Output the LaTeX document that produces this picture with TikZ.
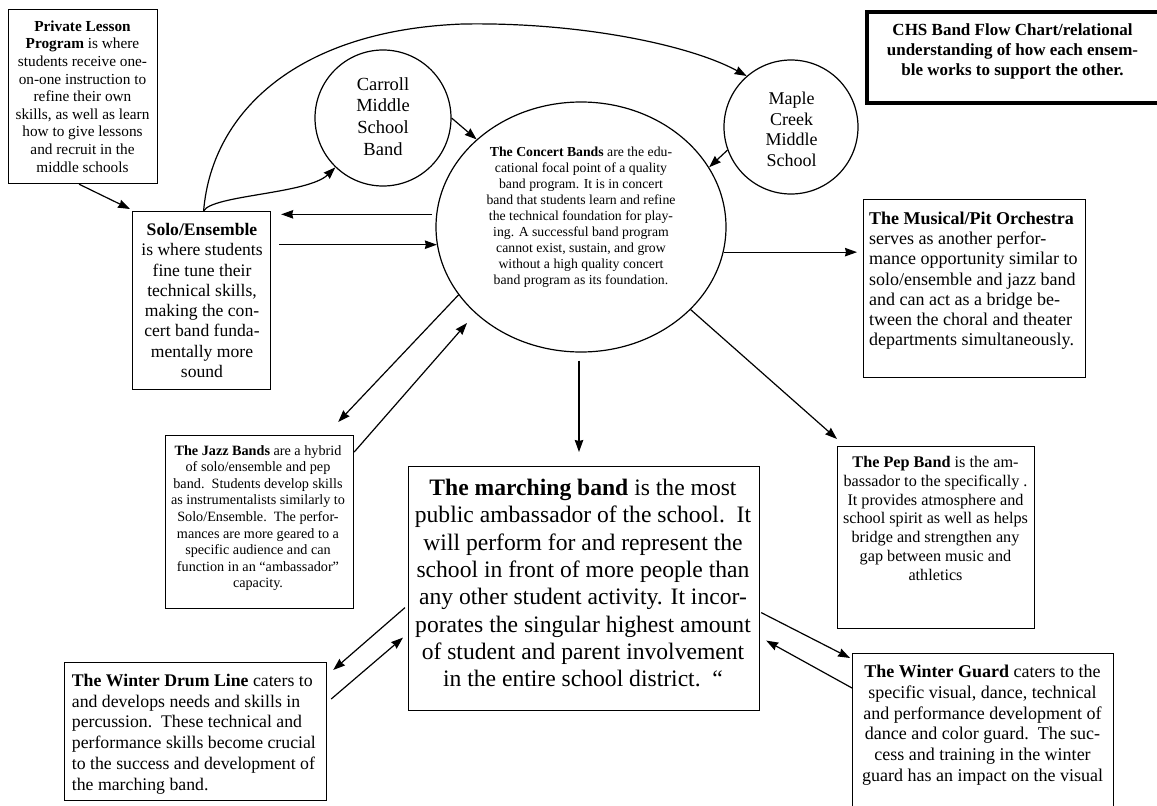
\documentclass[tikz,border=0pt]{standalone}
\usepackage{fontspec}
\setmainfont{Liberation Serif}
\usetikzlibrary{shapes.geometric,arrows.meta,calc}
\newcommand\setfs[2]{\fontsize{#1}{#2}\selectfont}
\begin{document}
\begin{tikzpicture}[x=1pt,y=1pt,
  box/.style={draw, line width=1.2pt, rectangle, anchor=north west, inner sep=0},
  circ/.style={draw, line width=1.2pt, circle, inner sep=0},
  txt/.style={inner sep=0, align=center, anchor=north},
  arr/.style={line width=1.2pt, -{Stealth[length=12pt,width=8.5pt,inset=1pt]}}]
\useasboundingbox (0,0) rectangle (1157,-806);
\clip (0,0) rectangle (1157,-806);
\fill[white] (0,0) rectangle (1157,-806);

% shapes
\node[box, minimum width=149, minimum height=174] (private) at (8,-9) {};
\node[txt, font=\setfs{15.3}{17.6}] (privatetext) at (82.5,-20.5) {\textbf{Private Lesson}\\\textbf{Program} is where\\students receive one-\\on-one instruction to\\refine their own\\skills, as well as learn\\how to give lessons\\and recruit in the\\middle schools};

\node[circ, minimum size=136] (carroll) at (383,-118) {};
\node[txt, font=\setfs{18.5}{21.7}] (carrolltext) at (383,-77) {Carroll\\Middle\\School\\Band};

\node[circ, minimum size=134] (maple) at (791,-127) {};
\node[txt, font=\setfs{18}{20.5}] (mapletext) at (791.5,-92) {Maple\\Creek\\Middle\\School};

\node[draw, line width=1.2pt, ellipse, minimum width=290, minimum height=250, inner sep=0] (concert) at (581,-227) {};
\node[txt, font=\setfs{13.75}{16}] (concerttext) at (581,-146.5) {\textbf{The Concert Bands} are the edu-\\cational focal point of a quality\\band program. It is in concert\\band that students learn and refine\\the technical foundation for play-\\ing. A successful band program\\cannot exist, sustain, and grow\\without a high quality concert\\band program as its foundation.};

\node[box, line width=3.5pt, minimum width=305, minimum height=91] (title) at (865,-10) {};
\node[txt, font=\bfseries\setfs{17}{20}] (titletext) at (1012.5,-24) {CHS Band Flow Chart/relational\\understanding of how each ensem-\\ble works to support the other.};

\node[box, minimum width=222, minimum height=178] (musical) at (863,-199) {};
\node[txt, align=left, anchor=north west, font=\setfs{18}{20.3}] (musicaltext) at (869,-211.5) {\textbf{The Musical/Pit Orchestra}\\serves as another perfor-\\mance opportunity similar to\\solo/ensemble and jazz band\\and can act as a bridge be-\\tween the choral and theater\\departments simultaneously.};

\node[box, minimum width=138, minimum height=178] (solo) at (132,-211) {};
\node[txt, font=\setfs{17.6}{20.3}] (solotext) at (202,-223) {\textbf{Solo/Ensemble}\\is where students\\fine tune their\\technical skills,\\making the con-\\cert band funda-\\mentally more\\sound};

\node[box, minimum width=188, minimum height=173] (jazz) at (165,-435) {};
\node[txt, font=\setfs{14.2}{16.6}] (jazztext) at (258,-445) {\textbf{The Jazz Bands} are a hybrid\\of solo/ensemble and pep\\band.\ \ Students develop skills\\as instrumentalists similarly to\\Solo/Ensemble.\ \ The perfor-\\mances are more geared to a\\specific audience and can\\function in an “ambassador”\\capacity.};

\node[box, minimum width=351, minimum height=244] (marching) at (408,-466) {};
\node[txt, font=\setfs{23.6}{27.3}] (marchingtext) at (583,-479) {\textbf{The marching band} is the most\\public ambassador of the school.\ \ It\\will perform for and represent the\\school in front of more people than\\any other student activity. It incor-\\porates the singular highest amount\\of student and parent involvement\\in the entire school district.\ \ “};

\node[box, minimum width=197, minimum height=182] (pep) at (837,-446) {};
\node[txt, font=\setfs{16.2}{18.8}] (peptext) at (935.5,-456) {\textbf{The Pep Band} is the am-\\bassador to the specifically .\\It provides atmosphere and\\school spirit as well as helps\\bridge and strengthen any\\gap between music and\\athletics};

\node[box, minimum width=262, minimum height=138] (drum) at (64,-662) {};
\node[txt, align=left, anchor=north west, font=\setfs{17.75}{20.7}] (drumtext) at (71.7,-674) {\textbf{The Winter Drum Line} caters to\\and develops needs and skills in\\percussion.\ \ These technical and\\performance skills become crucial\\to the success and development of\\the marching band.};

\node[box, minimum width=261, minimum height=170] (guard) at (852,-653) {};
\node[txt, font=\setfs{18}{20.7}] (guardtext) at (982.5,-665) {\textbf{The Winter Guard} caters to the\\specific visual, dance, technical\\and performance development of\\dance and color guard.\ \ The suc-\\cess and training in the winter\\guard has an impact on the visual};

% connectors
\draw[arr] ($(private.south)+(-4,0)$) -- ($(solo.north west)+(-2,2)$);
\draw[arr] ($(solo.north)+(2,0)$) .. controls (212,-110) and (300,-30) .. (463,-24) .. controls (580,-22) and (690,-45) .. (maple.131);
\draw[arr] ($(solo.north)+(2,0)$) .. controls (212,-195) and (308,-194) .. (carroll.226);
\draw[arr] (carroll.east) -- (concert.140);
\draw[arr] (maple.200) -- (concert.25);
\draw[arr] ($(concert.175)+(-4,0)$) -- ($(solo.east |- concert.175)+(10,0)$);
\draw[arr] ($(solo.east |- concert.187)+(8,0)$) -- (concert.187);
\draw[arr] (concert.350) -- ($(musical.west |- concert.350)+(-6,0)$);
\draw[arr] (concert.209) -- ($(jazz.north east)+(-16,13)$);
\draw[arr] ($(jazz.north east)+(0,-17)$) -- ($(concert.center)+(-114,-96)$);
\draw[arr] ($(concert.south)+(-2,-8)$) -- ($(concert.south |- marching.north)+(-2,14)$);
\draw[arr] (concert.323) -- ($(pep.north west)+(0,7)$);
\draw[arr] ($(marching.west)+(-3,-19)$) -- ($(drum.north east)+(6,-8)$);
\draw[arr] ($(drum.north east)+(4,-37)$) -- ($(marching.west)+(-5,-49)$);
\draw[arr] ($(marching.east)+(1,-24)$) -- ($(guard.north west)+(-2,-5)$);
\draw[arr] ($(guard.north west)+(0,-35)$) -- ($(marching.east)+(6,-52)$);
\end{tikzpicture}
\end{document}
